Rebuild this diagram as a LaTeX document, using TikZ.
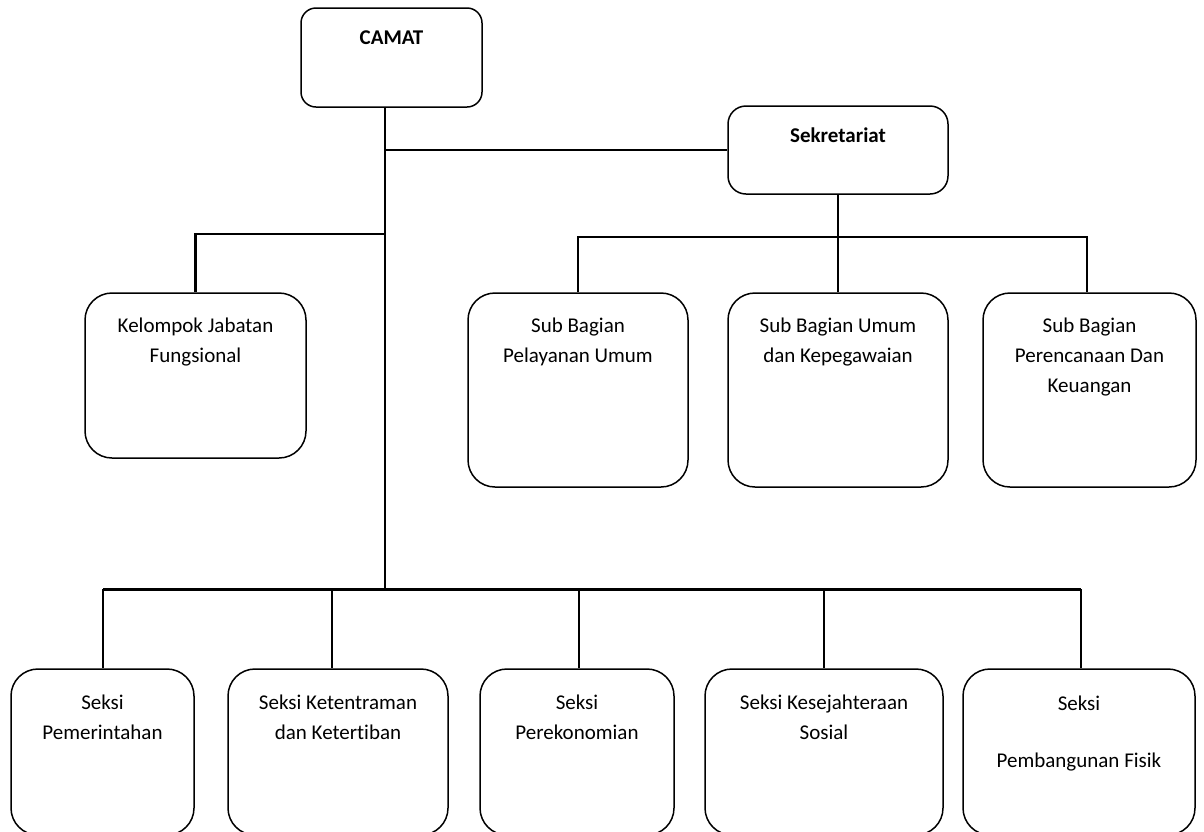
\documentclass[tikz,border=0pt]{standalone}
\usepackage{fontspec}
\setmainfont{Carlito}[Ligatures=NoCommon]
\begin{document}
\begin{tikzpicture}[x=1pt,y=-1pt,
  box/.style={draw, line width=1.5pt, inner sep=0pt, rounded corners=27pt},
  lbl/.style={align=center, inner sep=0pt, font=\fontsize{21}{30}\selectfont},
  conn/.style={line width=2.4pt},
  busb/.style={line width=3pt}]
\useasboundingbox (0,0) rectangle (1204,831);
\clip (0,0) rectangle (1204,831);
% top boxes
\node[box, rounded corners=15pt, minimum width=181pt, minimum height=99pt] (camat) at (391.5,57.5) {};
\node[lbl] (camatT) at (391.5,38) {\bfseries CAMAT};
\node[box, rounded corners=18pt, minimum width=220pt, minimum height=88pt] (sek) at (838,150) {};
\node[lbl] (sekT) at (838,135) {\bfseries Sekretariat};
% middle boxes
\node[box, minimum width=221pt, minimum height=165pt] (kjf) at (195.5,375.5) {};
\node[lbl] (kjfT) at (195.5,342) {Kelompok Jabatan\\Fungsional};
\node[box, minimum width=220pt, minimum height=194pt] (sb1) at (578,390) {};
\node[lbl] (sb1T) at (578,342) {Sub Bagian\\Pelayanan Umum};
\node[box, minimum width=220pt, minimum height=194pt] (sb2) at (838,390) {};
\node[lbl] (sb2T) at (838,342) {Sub Bagian Umum\\dan Kepegawaian};
\node[box, minimum width=213pt, minimum height=194pt] (sb3) at (1089.5,390) {};
\node[lbl] (sb3T) at (1089.5,357) {Sub Bagian\\Perencanaan Dan\\Keuangan};
% bottom boxes
\node[box, minimum width=183pt, minimum height=166pt] (s1) at (102.5,752) {};
\node[lbl] (s1T) at (102.5,717) {Seksi\\Pemerintahan};
\node[box, minimum width=220pt, minimum height=166pt] (s2) at (338,752) {};
\node[lbl] (s2T) at (338,717) {Seksi Ketentraman\\dan Ketertiban};
\node[box, minimum width=194pt, minimum height=166pt] (s3) at (577,752) {};
\node[lbl] (s3T) at (577,717) {Seksi\\Perekonomian};
\node[box, minimum width=238pt, minimum height=166pt] (s4) at (824,752) {};
\node[lbl] (s4T) at (824,717) {Seksi Kesejahteraan\\Sosial};
\node[box, minimum width=232pt, minimum height=166pt] (s5) at (1079,752) {};
\node[lbl] (s5T) at (1079,733) {Seksi\\[27pt]Pembangunan Fisik};
% junction coordinates
\coordinate (spine) at (385,0);
\coordinate (jsek) at (385,150);
\coordinate (jkjf) at (385,234);
\coordinate (jbot) at (385,589);
\coordinate (busS) at (0,237);
\coordinate (sb3x) at (1087,0);
\coordinate (s1x) at (103,0);
\coordinate (s2x) at (332,0);
\coordinate (s3x) at (579,0);
\coordinate (s5x) at (1081,0);
% connectors
\draw[conn] (camat.south -| spine) -- (jbot);
\draw[conn] (jsek) -- (sek.west);
\draw[conn] (jkjf) -| (kjf.north);
\draw[conn] (sek.south) -- (sek.south |- busS);
\draw[conn] (sb1.north) |- (sb3x |- busS) -- (sb3x |- sb3.north);
\draw[conn] (sb2.north) -- (sb2.north |- busS);
\draw[busb] (s1x |- jbot) -- (s5x |- jbot);
\draw[conn] (s1x |- jbot) -- (s1x |- s1.north);
\draw[conn] (s2x |- jbot) -- (s2x |- s2.north);
\draw[conn] (s3x |- jbot) -- (s3x |- s3.north);
\draw[conn] (s4.north |- jbot) -- (s4.north);
\draw[conn] (s5x |- jbot) -- (s5x |- s5.north);
\end{tikzpicture}
\end{document}
